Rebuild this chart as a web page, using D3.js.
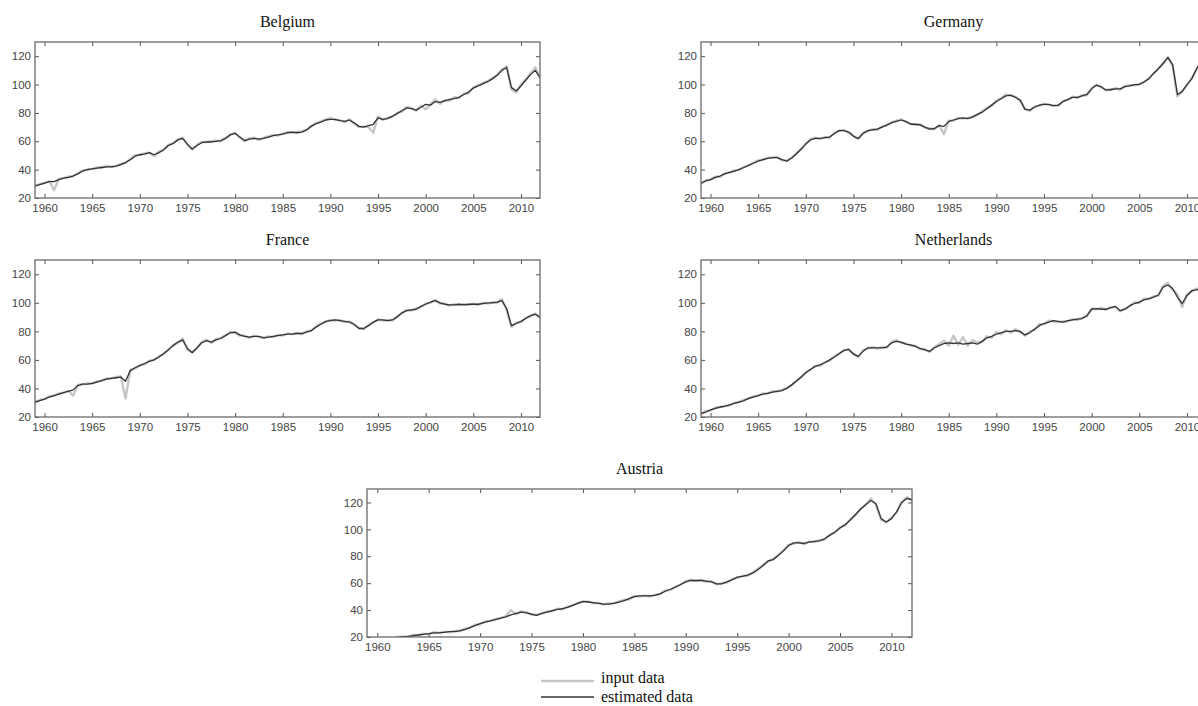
<!DOCTYPE html>
<html>
<head>
<meta charset="utf-8">
<script src="https://cdn.jsdelivr.net/npm/d3@7"></script>
<style>
  html, body { margin: 0; padding: 0; background: #fff; overflow: hidden; }
  svg { display: block; }
  .tick text { font-family: "Liberation Sans", Arial, sans-serif; font-size: 11.5px; fill: #444; }
  .tick line { stroke: #555; stroke-width: 1; }
  .title, .legend text { font-family: "Liberation Serif", "DejaVu Serif", serif; fill: #111; }
</style>
</head>
<body>
<svg id="chart" width="1198" height="706"></svg>
<script>
// Half-yearly index values, first value at 1959.0, step 0.5 year, last at 2012.0
const startYear = 1959;
const stepYears = 0.5;
const xDomain = [1959, 2012];
const yDomain = [20, 130];
const yearTicks = [1960, 1965, 1970, 1975, 1980, 1985, 1990, 1995, 2000, 2005, 2010];
const valueTicks = [20, 40, 60, 80, 100, 120];
const legendLabels = ["input data", "estimated data"];

const belgiumEstimated = [
  28.5, 29.5, 30.5, 31.5, 31.5, 33, 34, 34.5, 35.5, 37,
  39, 40, 40.5, 41, 41.5, 42, 42, 42.5, 43.5, 45,
  47, 49.5, 50.5, 51, 52, 50.5, 52, 54, 57, 58.5,
  61, 62, 58, 54.5, 57, 59, 59.5, 59.5, 60, 60.5,
  62, 64.5, 65.5, 63, 60.5, 61.5, 62, 61.5, 62, 63,
  64, 64.5, 65, 66, 66.5, 66, 66.5, 68, 70.5, 72.5,
  73.5, 75, 75.5, 75.5, 74.5, 74, 75, 73, 70.5, 70,
  71, 72, 76.5, 75.5, 76, 77.5, 79.5, 81.5, 83.5, 83,
  82, 84, 86, 85.5, 88, 87.5, 88.5, 89.5, 90, 91,
  93, 94.5, 97.5, 99, 100.5, 102, 104, 106.5, 110, 112,
  98, 95.5, 99, 103, 107, 110, 105
];
const belgiumInput = [
  28.5, 30, 30.5, 32, 25.5, 33.5, 34, 35, 35.5, 37.5,
  39.5, 40, 40.5, 41.5, 41.5, 42.5, 42, 42.5, 44, 45,
  47.5, 50, 50.5, 51.5, 52, 49.5, 52.5, 54, 57.5, 58.5,
  61.5, 62.5, 57.5, 54, 57.5, 59.5, 59.5, 60, 60.5, 60,
  62.5, 65, 66, 62.5, 60, 62, 62.5, 61, 62.5, 63.5,
  64.5, 64, 65.5, 66.5, 66, 66.5, 67, 68, 71, 72.5,
  74, 75.5, 76.5, 75, 75, 73.5, 75.5, 72.5, 70, 70.5,
  70, 66, 77.5, 75, 76.5, 77.5, 80, 81, 84, 83.5,
  81.5, 85, 82.5, 86, 89.5, 86.5, 89, 88.5, 91, 90.5,
  93.5, 94, 98, 99.5, 101, 102.5, 104.5, 107, 110.5, 113,
  96.5, 94.5, 100, 103.5, 108, 112, 104.5
];

const germanyEstimated = [
  30.5, 32, 33, 34.5, 35.5, 37, 38, 39, 40, 41.5,
  43, 44.5, 46, 47, 48, 48.5, 48.5, 47, 46, 48,
  51, 54.5, 58, 61, 62, 62, 62.5, 63, 65.5, 67.5,
  67.5, 66.5, 63.5, 62, 65.5, 67.5, 68, 68.5, 70, 71.5,
  73, 74, 75, 74, 72, 72, 71.5, 70, 68.5, 69,
  71, 70.5, 74, 75, 76, 76.5, 76, 77, 79, 80.5,
  83, 85.5, 88, 90, 92, 92.5, 91, 89, 82.5, 82,
  84, 85.5, 86, 86, 85, 85.5, 88, 89.5, 91, 91,
  92, 93, 97, 99.5, 98.5, 96, 96.5, 97, 97, 98.5,
  99, 100, 100, 102, 104, 108, 111, 115, 119, 114,
  93, 95, 100, 104, 111, 116, 118
];
const germanyInput = [
  30, 32.5, 33, 35, 35, 37.5, 38, 39.5, 40, 42,
  43, 45, 46.5, 47, 48.5, 48.5, 49, 46.5, 46.5, 48.5,
  51.5, 54, 58.5, 61.5, 62.5, 61.5, 63, 62.5, 66, 67.5,
  68, 66, 64, 61.5, 66, 67, 68.5, 68, 70.5, 71,
  73.5, 74.5, 75.5, 73.5, 72.5, 71.5, 72, 69.5, 69, 68.5,
  71.5, 65, 74.5, 74.5, 76.5, 76, 76.5, 77.5, 78.5, 81,
  83.5, 85, 88.5, 90.5, 93, 92, 91.5, 88.5, 83, 81.5,
  84.5, 85, 86.5, 85.5, 85.5, 85, 88.5, 89, 91.5, 90.5,
  92.5, 92.5, 97.5, 100, 98, 96.5, 96, 97.5, 96.5, 99,
  99.5, 99.5, 100.5, 101.5, 104.5, 107.5, 111.5, 114.5, 119.5, 113,
  91.5, 95.5, 99.5, 104.5, 110.5, 116.5, 117.5
];

const franceEstimated = [
  30.5, 31.5, 32.5, 34, 35, 36, 37, 38, 39, 42,
  43, 43, 43.5, 44.5, 45.5, 46.5, 47, 47.5, 48, 45,
  52.5, 54.5, 56, 57.5, 59, 60, 62, 64.5, 67, 70,
  72.5, 74, 68, 65, 68.5, 72, 73.5, 72.5, 74, 75,
  77, 79, 79.5, 77.5, 76.5, 76, 76.5, 76.5, 75.5, 76,
  76.5, 77, 77.5, 78, 78, 78.5, 78.5, 79.5, 80.5, 83,
  85, 87, 87.5, 88, 87.5, 87, 86.5, 85, 82, 82,
  84, 86.5, 88, 88, 87.5, 88, 90, 93, 94.5, 95,
  95.5, 97.5, 99, 100.5, 101.5, 100, 99, 98.5, 98.5, 99,
  98.5, 99, 99, 99, 99.5, 100, 100, 100.5, 101.5, 96,
  84, 85.5, 87, 89, 91, 92, 90
];
const franceInput = [
  30, 32, 32.5, 34.5, 35, 36.5, 37, 38.5, 35, 42.5,
  43, 43.5, 43.5, 45, 45.5, 47, 47, 48, 48.5, 33,
  53, 54, 56.5, 57, 59.5, 60, 62.5, 64, 67.5, 70.5,
  72, 75, 67, 65.5, 68, 72.5, 74, 72, 74.5, 75.5,
  77.5, 79.5, 79, 77, 77, 75.5, 77, 76, 75.5, 76.5,
  76, 77.5, 77, 78.5, 78, 79, 78, 80, 80.5, 83.5,
  85.5, 86.5, 88, 87.5, 88, 86.5, 87, 84.5, 82.5, 81.5,
  84.5, 86, 88.5, 87.5, 88, 87.5, 90.5, 92.5, 95, 94.5,
  96, 97, 99.5, 100, 102, 99.5, 99.5, 98, 99, 98.5,
  99, 98.5, 99.5, 98.5, 100, 99.5, 100.5, 100, 102.5, 95,
  83, 86, 86.5, 89.5, 90.5, 92.5, 89.5
];

const netherlandsEstimated = [
  22.5, 23.5, 25, 26, 27, 27.5, 28.5, 29.5, 30.5, 31.5,
  33, 34, 35, 36, 36.5, 37.5, 38, 38.5, 40, 42.5,
  45, 48, 51, 53.5, 55.5, 56.5, 58, 60, 62, 64.5,
  66.5, 67.5, 64, 62.5, 66, 68.5, 68.5, 68.5, 68.5, 69,
  72, 73, 72.5, 71, 70.5, 69.5, 68, 67, 66, 68.5,
  70, 71.5, 72, 71.5, 72, 71, 71.5, 72, 71, 73,
  75.5, 76.5, 78, 79, 80, 80, 80.5, 80, 77.5, 79,
  81.5, 84, 85.5, 86.5, 87.5, 87, 86.5, 87.5, 88, 88.5,
  89, 91, 95.5, 96, 95.5, 95.5, 96.5, 97.5, 94.5, 95.5,
  98, 99.5, 100.5, 102, 103, 104, 105.5, 111, 112.5, 110,
  104, 99.5, 105, 108.5, 109, 110, 109
];
const netherlandsInput = [
  22, 24, 24.5, 26.5, 27, 28, 28, 30, 30.5, 32,
  33, 34.5, 35, 36.5, 36.5, 38, 38, 39, 40.5, 42,
  45.5, 47.5, 51.5, 53, 56, 56, 58.5, 59.5, 62.5, 64,
  67, 67, 64.5, 62, 66.5, 68, 69, 68, 69, 68.5,
  72.5, 74, 72, 71.5, 70, 70, 67.5, 67.5, 65.5, 69,
  71, 73.5, 70, 77, 70.5, 76, 70, 74, 72, 72.5,
  76.5, 75.5, 79.5, 78, 81, 79, 81.5, 79.5, 77, 80,
  81, 85, 85, 87.5, 87, 86.5, 87, 87, 88.5, 88,
  89.5, 90.5, 96, 95.5, 96.5, 95, 97, 97, 94, 96,
  97.5, 100.5, 100, 103, 102.5, 104.5, 105, 112, 114, 109,
  106, 97, 106, 108, 110, 109, 109.5
];

const austriaEstimated = [
  17, 17.5, 18, 18.5, 19, 19.5, 19.5, 20, 20.5, 21,
  21.5, 22, 22.5, 23, 23, 23.5, 24, 24, 24.5, 25.5,
  27, 28.5, 30, 31, 32, 33, 34, 35, 36.5, 37.5,
  38.5, 38, 37, 36, 37.5, 38.5, 39.5, 40.5, 41, 42,
  43.5, 45, 46.5, 46, 45.5, 45, 44.5, 44.5, 45, 46,
  47, 48.5, 50, 50.5, 50.5, 50.5, 51, 52, 54, 55.5,
  57, 59, 61, 62, 62, 62, 61.5, 61, 59.5, 59.5,
  61, 62.5, 64.5, 65, 66, 67.5, 70, 73, 76.5, 77.5,
  80.5, 84, 88, 90, 90, 89.5, 90.5, 91, 91.5, 93,
  95.5, 98, 101, 103.5, 107, 111, 115, 118.5, 121.5, 119,
  108, 105.5, 108, 113, 120, 123, 122
];
const austriaInput = [
  17, 17.5, 18.5, 18, 19.5, 19, 20, 20.5, 20, 21.5,
  21.5, 22.5, 22, 23.5, 23, 24, 23.5, 24.5, 24.5, 26,
  27, 29, 29.5, 31.5, 32, 33.5, 34, 35.5, 40, 37,
  39, 38.5, 36.5, 36.5, 37.5, 39, 39.5, 41, 40.5, 42.5,
  43.5, 45.5, 46, 46.5, 45, 45.5, 44, 45, 45, 46.5,
  47.5, 48, 50.5, 50, 51, 50, 51.5, 52, 54.5, 55,
  57.5, 59, 61.5, 62.5, 61.5, 62.5, 61, 61.5, 59, 60,
  60.5, 63, 64, 65.5, 65.5, 68, 70.5, 73.5, 76, 78,
  81, 84.5, 88.5, 89.5, 90.5, 89, 91, 90.5, 92, 92.5,
  96, 97.5, 101.5, 103, 107.5, 110.5, 115.5, 118, 123, 118,
  107, 105, 108.5, 112.5, 120.5, 124, 121.5
];

// Panel placement on the page
const panels = [
  { name: "Belgium",     estimated: belgiumEstimated,     input: belgiumInput,     x: 35,  y: 42,  w: 505, h: 156 },
  { name: "Germany",     estimated: germanyEstimated,     input: germanyInput,     x: 701, y: 42,  w: 505, h: 156 },
  { name: "France",      estimated: franceEstimated,      input: franceInput,      x: 35,  y: 260, w: 505, h: 157 },
  { name: "Netherlands", estimated: netherlandsEstimated, input: netherlandsInput, x: 701, y: 260, w: 505, h: 157 },
  { name: "Austria",     estimated: austriaEstimated,     input: austriaInput,     x: 367, y: 489, w: 545, h: 148 }
];

const inputStyle = { stroke: "#c6c6c6", width: 2.4 };
const estimatedStyle = { stroke: "#333333", width: 1.3 };

const svg = d3.select("#chart");
const defs = svg.append("defs");

panels.forEach((p, idx) => {
  const x = d3.scaleLinear().domain(xDomain).range([0, p.w]);
  const y = d3.scaleLinear().domain(yDomain).range([p.h, 0]);
  const g = svg.append("g").attr("transform", `translate(${p.x},${p.y})`);

  const clipId = "clip-" + idx;
  defs.append("clipPath").attr("id", clipId)
    .append("rect").attr("width", p.w).attr("height", p.h);

  const line = d3.line()
    .x((d, i) => x(startYear + i * stepYears))
    .y(d => y(d));

  const plot = g.append("g").attr("clip-path", `url(#${clipId})`);
  plot.append("path").datum(p.input)
    .attr("d", line).attr("fill", "none")
    .attr("stroke", inputStyle.stroke).attr("stroke-width", inputStyle.width)
    .attr("stroke-linejoin", "round");
  plot.append("path").datum(p.estimated)
    .attr("d", line).attr("fill", "none")
    .attr("stroke", estimatedStyle.stroke).attr("stroke-width", estimatedStyle.width)
    .attr("stroke-linejoin", "round");

  // inward ticks on all four sides
  const bottom = g.append("g").attr("transform", `translate(0,${p.h})`)
    .call(d3.axisBottom(x).tickValues(yearTicks).tickFormat(d3.format("d")).tickSize(-4).tickPadding(6));
  const top = g.append("g")
    .call(d3.axisTop(x).tickValues(yearTicks).tickFormat("").tickSize(-4));
  const left = g.append("g")
    .call(d3.axisLeft(y).tickValues(valueTicks).tickSize(-4).tickPadding(4));
  const right = g.append("g").attr("transform", `translate(${p.w},0)`)
    .call(d3.axisRight(y).tickValues(valueTicks).tickFormat("").tickSize(-4));
  [bottom, top, left, right].forEach(a => a.select(".domain").remove());

  g.append("rect").attr("width", p.w).attr("height", p.h)
    .attr("fill", "none").attr("stroke", "#6a6a6a").attr("stroke-width", 1.3);

  g.append("text").attr("class", "title")
    .attr("x", p.w / 2).attr("y", -15)
    .attr("text-anchor", "middle")
    .style("font-size", "16px")
    .text(p.name);
});

// Legend
const legend = svg.append("g").attr("class", "legend").attr("transform", "translate(541,0)");
const legendRows = [
  { label: legendLabels[0], style: inputStyle, lineY: 681, textY: 678 },
  { label: legendLabels[1], style: estimatedStyle, lineY: 697, textY: 697 }
];
legendRows.forEach(r => {
  legend.append("line").attr("x1", 0).attr("x2", 53).attr("y1", r.lineY).attr("y2", r.lineY)
    .attr("stroke", r.style.stroke).attr("stroke-width", r.style.width);
  legend.append("text").attr("x", 60).attr("y", r.textY).attr("dy", "0.32em")
    .style("font-size", "16px").text(r.label);
});
</script>
</body>
</html>
